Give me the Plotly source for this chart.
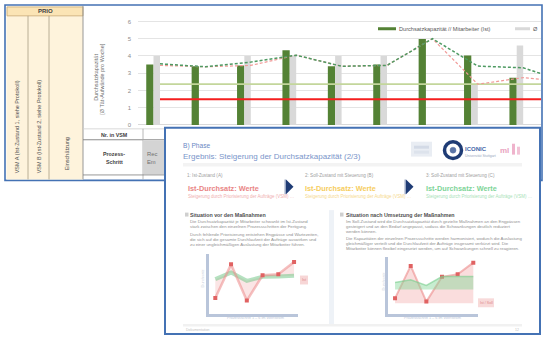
import plotly.graph_objects as go

W, H = 544, 339


def px(x):
    return x / W


def py(y):
    return 1 - y / H


# ---------------- data (main chart) ----------------
bar_categories = [1, 2, 3, 4, 5, 6, 7, 8, 9]
line_categories = [1, 2, 3, 4, 5, 6, 7, 8, 9, 10]
capacity_actual = [3.50, 3.40, 3.45, 4.33, 3.40, 3.50, 4.98, 4.02, 2.74]      # dark green bars
capacity_target = [4.00, 0.00, 4.00, 4.00, 4.00, 4.00, 0.00, 2.36, 4.60]      # light gray bars
trend_green = [3.54, 3.37, 3.64, 4.04, 3.40, 3.45, 5.00, 3.41, 3.31, 2.45]    # dashed green
trend_pink = [3.45, 3.37, 3.45, 4.04, 3.40, 3.45, 5.00, 2.36, 2.74, 2.50]     # dashed pink
level_red = [1.48, 1.48, 1.48, 1.48, 1.48, 1.48, 1.48, 1.48, 1.48, 1.48]
level_lightgreen = [2.36, 2.36, 2.36, 2.36, 2.36, 2.36, 2.36, 2.36, 2.36, 2.36]
y_ticks = [0, 1, 2, 3, 4, 5, 6]

# ---------------- data (slide mini charts) ----------------
mini_x = [1, 2, 3, 4, 5, 6]
left_ist = [2.67, 8.25, 2.25, 6.44, 6.61, 8.64]
left_soll = [5.79, 6.89, 5.52, 6.18, 6.23, 6.34]
right_base = [1.9, 1.9, 1.9, 1.9, 1.9, 1.9]
right_ist = [2.76, 8.40, 2.19, 6.50, 6.95, 8.97]
right_band_low = [4.3, 4.3, 4.3, 4.3, 4.3, 4.3]
right_band_high = [5.5, 6.0, 5.0, 6.55, 6.55, 6.55]

FONT = "Liberation Sans"

fig = go.Figure()

# main chart traces
fig.add_trace(go.Bar(x=bar_categories, y=capacity_actual, width=0.16, offset=-0.303,
                     marker=dict(color="#548235", line=dict(width=0)), xaxis="x", yaxis="y"))
fig.add_trace(go.Bar(x=bar_categories, y=capacity_target, width=0.143, offset=-0.143,
                     marker=dict(color="#D9D9D9", line=dict(width=0)), xaxis="x", yaxis="y"))
fig.add_trace(go.Scatter(x=line_categories, y=level_lightgreen, mode="lines",
                         line=dict(color="#C3D69B", width=1.8), xaxis="x", yaxis="y"))
fig.add_trace(go.Scatter(x=line_categories, y=level_red, mode="lines",
                         line=dict(color="#F41E1E", width=2), xaxis="x", yaxis="y"))
fig.add_trace(go.Scatter(x=line_categories, y=trend_pink, mode="lines",
                         line=dict(color="#F19A98", width=1.2, dash="3px,2px"), xaxis="x", yaxis="y"))
fig.add_trace(go.Scatter(x=line_categories, y=trend_green, mode="lines",
                         line=dict(color="#4E9A62", width=1.5, dash="3px,2px"), xaxis="x", yaxis="y"))

# left mini chart
fig.add_trace(go.Scatter(x=mini_x, y=left_soll, mode="lines",
                         line=dict(color="rgba(120,200,140,0.55)", width=4), xaxis="x2", yaxis="y2"))
fig.add_trace(go.Scatter(x=mini_x, y=left_ist, mode="lines+markers", fill="tonexty",
                         fillcolor="rgba(240,150,150,0.25)",
                         line=dict(color="rgba(236,140,140,0.55)", width=2.5),
                         marker=dict(symbol="square", size=4, color="#E06262"), xaxis="x2", yaxis="y2"))

# right mini chart
fig.add_trace(go.Scatter(x=mini_x, y=right_base, mode="lines",
                         line=dict(color="rgba(0,0,0,0)", width=0), xaxis="x3", yaxis="y3"))
fig.add_trace(go.Scatter(x=mini_x, y=right_ist, mode="lines+markers", fill="tonexty",
                         fillcolor="rgba(240,150,150,0.32)",
                         line=dict(color="rgba(236,140,140,0.6)", width=2),
                         marker=dict(symbol="square", size=4, color="#E06262"), xaxis="x3", yaxis="y3"))
fig.add_trace(go.Scatter(x=mini_x, y=right_band_low, mode="lines",
                         line=dict(color="rgba(0,0,0,0)", width=0), xaxis="x3", yaxis="y3"))
fig.add_trace(go.Scatter(x=mini_x, y=right_band_high, mode="lines", fill="tonexty",
                         fillcolor="rgba(130,215,150,0.45)",
                         line=dict(color="rgba(120,205,140,0.6)", width=1.5), xaxis="x3", yaxis="y3"))

# ---------------- shapes ----------------
shapes = []


def R(x0, y0, x1, y1, fill=None, line=None, lw=0, layer="below"):
    shapes.append(dict(type="rect", xref="paper", yref="paper",
                       x0=px(x0), x1=px(x1), y0=py(y1), y1=py(y0),
                       fillcolor=fill or "rgba(0,0,0,0)",
                       line=dict(color=line or "rgba(0,0,0,0)", width=lw), layer=layer))


def L(x0, y0, x1, y1, color, w, layer="below"):
    shapes.append(dict(type="line", xref="paper", yref="paper",
                       x0=px(x0), x1=px(x1), y0=py(y0), y1=py(y1),
                       line=dict(color=color, width=w), layer=layer))


def C(cx, cy, r, fill, line, lw):
    shapes.append(dict(type="circle", xref="paper", yref="paper",
                       x0=px(cx - r), x1=px(cx + r), y0=py(cy + r), y1=py(cy - r),
                       fillcolor=fill, line=dict(color=line, width=lw), layer="below"))


def P(points, fill):
    d = "M " + " L ".join(f"{px(a):.5f},{py(b):.5f}" for a, b in points) + " Z"
    shapes.append(dict(type="path", xref="paper", yref="paper", path=d,
                       fillcolor=fill, line=dict(width=0), layer="below"))


# background spreadsheet screenshot
R(5, 5, 542, 182, fill="white", line="#4472B4", lw=1.6)
R(6.5, 6.5, 83, 181, fill="#FEF3DC")
R(7, 7, 83, 16, fill="#FBE4B5", line="#C8A874", lw=0.8)
L(28, 16, 28, 181, "#A89C84", 0.8)
L(49, 16, 49, 181, "#A89C84", 0.8)
L(83, 6, 83, 181, "#8C8C8C", 0.9)
L(83, 130, 165, 130, "#D0D0D0", 0.8)
L(83, 141, 165, 141, "#7F7F7F", 0.9)
L(143, 130, 143, 181, "#A6A6A6", 0.8)
R(143, 141.5, 165, 176, fill="#D4D4D4")
L(83, 176.5, 165, 176.5, "#7F7F7F", 0.8)

# legend symbols of main chart
L(378, 29, 396, 29, "#548235", 3)
L(515, 29, 530, 29, "#D9D9D9", 3)

# slide overlay
R(165, 129, 540, 337, fill="white", line="#4472B4", lw=2)
R(183, 164.5, 522, 168, fill="#F3F3F3")
# logos
R(411, 143, 432, 158, fill="#E9EDF3")
R(414, 147, 429, 150, fill="#D3DAE6")
R(414, 152, 429, 155, fill="#DDE3EC")
C(453, 151.5, 8.5, "white", "#1F3C75", 3.5)
C(453, 151.5, 3, "#5A74A6", "#5A74A6", 0.5)
R(512, 145, 515, 156, fill="#EFB3CC")
R(517, 148, 520, 156, fill="#F2C3D6")
# arrows
R(284.5, 181, 286, 196, fill="#9AA8C4")
P([(286, 181), (293.5, 188.5), (286, 196)], "#1F3C75")
R(404.5, 181, 406, 196, fill="#9AA8C4")
P([(406, 181), (413.5, 188.5), (406, 196)], "#1F3C75")
# section markers & divider
R(185, 214.5, 188.5, 218.5, fill="#CFCFCF")
R(340, 214.5, 343.5, 218.5, fill="#CFCFCF")
R(329, 212, 334, 328, fill="#EEF2F7")
# footer
R(183, 327, 522, 329.5, fill="#F1F1F1")
# mini chart legend blobs
R(300, 278, 308, 287, fill="#F7D6D6")
R(478, 301, 494, 310, fill="#F8DADA")

# ---------------- annotations ----------------
ann = []


def T(x, y, text, size, color, anchor="left", bold=False, angle=0, yanchor="middle"):
    ann.append(dict(xref="paper", yref="paper", x=px(x), y=py(y),
                    text=f"<b>{text}</b>" if bold else text, showarrow=False,
                    xanchor=anchor, yanchor=yanchor, textangle=angle, borderpad=0,
                    font=dict(size=size, color=color, family=FONT)))


# spreadsheet texts
T(45, 11.5, "PRIO", 6, "#404040", anchor="center", bold=True)
T(16.5, 128, "VSM A (Ist-Zustand 1, siehe Protokoll)", 5.5, "#505050", anchor="center", angle=-90)
T(38.5, 128, "VSM B (Ist-Zustand 2, siehe Protokoll)", 5.5, "#505050", anchor="center", angle=-90)
T(66.5, 155, "Einschätzung", 5.5, "#505050", anchor="center", angle=-90)
T(96.5, 78, "Durchsatzkapazität", 5.5, "#707070", anchor="center", angle=-90)
T(102.5, 80, "[Ø Tät-Aufwände pro Woche]", 5.5, "#707070", anchor="center", angle=-90)
T(114, 136, "Nr. in VSM", 5.3, "#404040", anchor="center", bold=True)
T(114, 155, "Prozess-", 5.3, "#404040", anchor="center", bold=True)
T(114, 163.5, "Schritt", 5.3, "#404040", anchor="center", bold=True)
T(146, 155, "Rec", 5.8, "#707070")
T(146, 163.5, "Em", 5.8, "#707070")
T(398, 29, "Durchsatzkapazität // Mitarbeiter (Ist)", 5.6, "#595959")
T(532, 29, "Ø", 5.6, "#595959")

# slide header
T(182, 147, "B) Phase", 6.6, "#6A88C4")
T(182, 157.5, "Ergebnis: Steigerung der Durchsatzkapazität (2/3)", 8, "#7A95CA")
T(464, 150, "ICONIC", 6, "#4767A8", bold=True)
T(464, 157, "Universität Stuttgart", 3.5, "#9AA6BE")
T(499, 152, "ml", 8, "#E9A3C0", bold=True)

# boxes
T(186, 177.5, "1: Ist-Zustand (A)", 4.6, "#A0A0A0")
T(304, 177.5, "2: Soll-Zustand mit Steuerung (B)", 4.6, "#A0A0A0")
T(425, 177.5, "3: Soll-Zustand mit Steuerung (C)", 4.6, "#A0A0A0")
T(187, 190, "Ist-Durchsatz: Werte", 7.3, "#E98585", bold=True)
T(304, 190, "Ist-Durchsatz: Werte", 7.3, "#F6CD5E", bold=True)
T(425, 190, "Ist-Durchsatz: Werte", 7.3, "#7ED498", bold=True)
T(187, 198.5, "Steigerung durch Priorisierung der Aufträge (VSM) …", 4.5, "#F0AFAF")
T(304, 198.5, "Steigerung durch Priorisierung der Aufträge (VSM) …", 4.5, "#F6D98C")
T(425, 198.5, "Steigerung durch Priorisierung der Aufträge (VSM) …", 4.5, "#A8E2B8")

# section headings
T(189, 216.5, "Situation vor den Maßnahmen", 5.3, "#4F4F4F", bold=True)
T(345, 216.5, "Situation nach Umsetzung der Maßnahmen", 5.3, "#4F4F4F", bold=True)

left_lines = [
    (223.3, "Die Durchsatzkapazität je Mitarbeiter schwankt im Ist-Zustand"),
    (228.3, "stark zwischen den einzelnen Prozessschritten der Fertigung."),
    (236.7, "Durch fehlende Priorisierung entstehen Engpässe und Wartezeiten,"),
    (241.7, "die sich auf die gesamte Durchlaufzeit der Aufträge auswirken und"),
    (246.7, "zu einer ungleichmäßigen Auslastung der Mitarbeiter führen."),
]
for yy, t in left_lines:
    T(189, yy, t, 4.3, "#8F8F8F")

right_lines = [
    (223.3, "Im Soll-Zustand wird die Durchsatzkapazität durch gezielte Maßnahmen an den Engpässen"),
    (228.3, "gesteigert und an den Bedarf angepasst, sodass die Schwankungen deutlich reduziert"),
    (233.3, "werden können."),
    (241.0, "Die Kapazitäten der einzelnen Prozessschritte werden harmonisiert, wodurch die Auslastung"),
    (246.0, "gleichmäßiger verteilt und die Durchlaufzeit der Aufträge insgesamt verkürzt wird. Die"),
    (251.0, "Mitarbeiter können flexibel eingesetzt werden, um auf Schwankungen schnell zu reagieren."),
]
for yy, t in right_lines:
    T(345, yy, t, 4.3, "#8F8F8F")

# mini chart labels
T(203, 281, "Durchsatz", 4, "#CDD4E0", anchor="center", angle=-90)
T(383, 284, "Durchsatz", 4, "#CDD4E0", anchor="center", angle=-90)
T(255, 321, "Prozessschritt 1 – 6 im Wertstrom", 3.8, "#BCC7D9", anchor="center")
T(432, 321, "Prozessschritt 1 – 6 im Wertstrom", 3.8, "#BCC7D9", anchor="center")
T(304, 282.5, "Ist", 3.8, "#E08A8A", anchor="center")
T(486, 305.5, "Ist / Soll", 3.6, "#E08A8A", anchor="center")
T(185, 332.5, "Dokumentation", 3.5, "#C2C2C2")
T(520, 332.5, "12", 3.5, "#C2C2C2", anchor="right")

# ---------------- layout ----------------
mini_axis = dict(showline=True, linecolor="#B9C5DA", linewidth=2.5, showgrid=False,
                 zeroline=False, showticklabels=False, ticks="", fixedrange=True)

fig.update_layout(
    width=W, height=H, margin=dict(l=0, r=0, t=0, b=0),
    paper_bgcolor="white", plot_bgcolor="rgba(0,0,0,0)",
    showlegend=False, barmode="overlay",
    font=dict(family=FONT),
    xaxis=dict(domain=[px(138), px(541)], range=[1 + (138 - 160) / 45.4, 1 + (541 - 160) / 45.4],
               visible=False, fixedrange=True),
    yaxis=dict(domain=[py(126), py(16.4)], range=[0, 6.3], tickvals=y_ticks,
               showgrid=True, gridcolor="#E4E4E4", gridwidth=1,
               zeroline=True, zerolinecolor="#D9D9D9", zerolinewidth=1,
               showline=False, ticks="", ticklabelstandoff=6,
               tickfont=dict(size=6, color="#8C8C8C", family=FONT), fixedrange=True),
    xaxis2=dict(domain=[px(209), px(298)], range=[0.6, 6.25], anchor="y2", **mini_axis),
    yaxis2=dict(domain=[py(317), py(256)], range=[0, 10], anchor="x2", **mini_axis),
    xaxis3=dict(domain=[px(388), px(478)], range=[0.55, 6.3], anchor="y3", **mini_axis),
    yaxis3=dict(domain=[py(317), py(259)], range=[0, 10], anchor="x3", **mini_axis),
    shapes=shapes, annotations=ann,
)

fig.write_html("out.html", config={"displayModeBar": False})
